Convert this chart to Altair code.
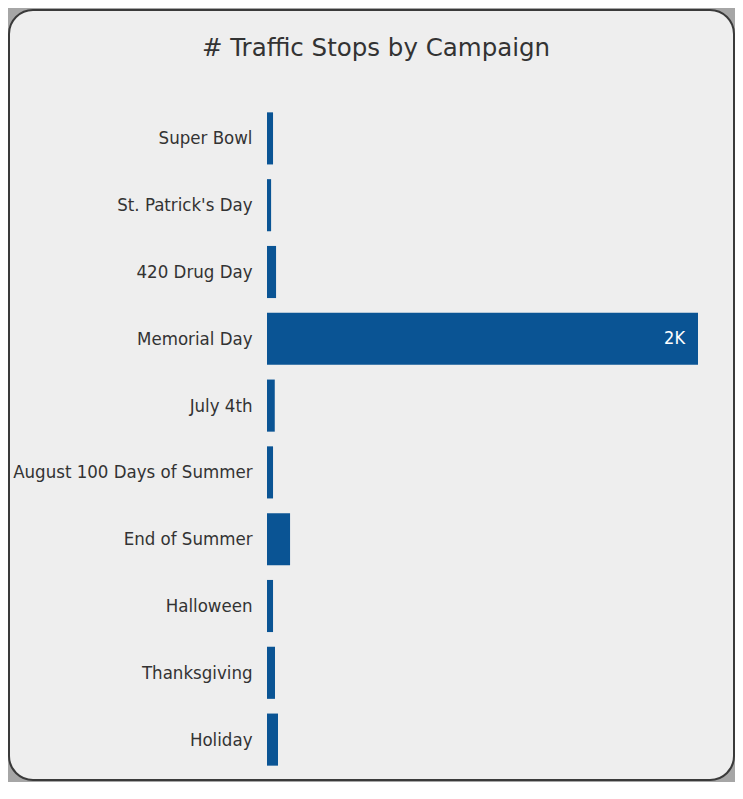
import altair as alt
import pandas as pd

title_text = "# Traffic Stops by Campaign"
campaigns = ["Super Bowl", "St. Patrick's Day", "420 Drug Day", "Memorial Day",
             "July 4th", "August 100 Days of Summer", "End of Summer",
             "Halloween", "Thanksgiving", "Holiday"]
stops = [28, 19, 42, 2000, 36, 28, 107, 28, 37, 51]

df = pd.DataFrame({"campaign": campaigns, "stops": stops})

FONT = "DejaVu Sans Condensed"
BAR = "#0a5494"

card = alt.Chart(pd.DataFrame({"a": [0]})).mark_rect(
    fill="#eeeeee", stroke="#3a3a3a", strokeWidth=2, cornerRadius=24
).encode(
    x=alt.value(-258), x2=alt.value(467), y=alt.value(-95), y2=alt.value(675)
)

title = alt.Chart(pd.DataFrame({"t": [title_text]})).mark_text(
    font="DejaVu Sans", fontSize=24.5, color="#333333", align="center", baseline="alphabetic"
).encode(text="t:N", x=alt.value(109), y=alt.value(-49))

y_enc = alt.Y("campaign:N", sort=campaigns, title=None,
              scale=alt.Scale(paddingInner=0.22, paddingOuter=0.11),
              axis=alt.Axis(domain=False, ticks=False, labelPadding=15,
                            labelFontSize=18.5, labelColor="#333333", labelFont=FONT,
                            zindex=1, labelLimit=400))
x_enc = alt.X("stops:Q", title=None, axis=None,
              scale=alt.Scale(domain=[0, 2000], nice=False))

bars = alt.Chart(df).mark_bar(color=BAR).encode(x=x_enc, y=y_enc)

labels = alt.Chart(df).transform_filter("datum.stops >= 1000").transform_calculate(
    lab="format(datum.stops / 1000, '.0f') + 'K'"
).mark_text(align="right", baseline="middle", dx=-13, color="white",
            font=FONT, fontSize=18).encode(x=x_enc, y=y_enc, text="lab:N")

chart = alt.layer(card, title, bars, labels).properties(
    width=431, height=668, background="#a6a6a6",
    autosize=alt.AutoSizeParams(type="none"),
    padding={"left": 259, "top": 97, "right": 37, "bottom": 9},
).configure_view(strokeWidth=0).configure_axis(grid=False)

chart.save("out.html", embed_options={"renderer": "svg", "actions": False})
